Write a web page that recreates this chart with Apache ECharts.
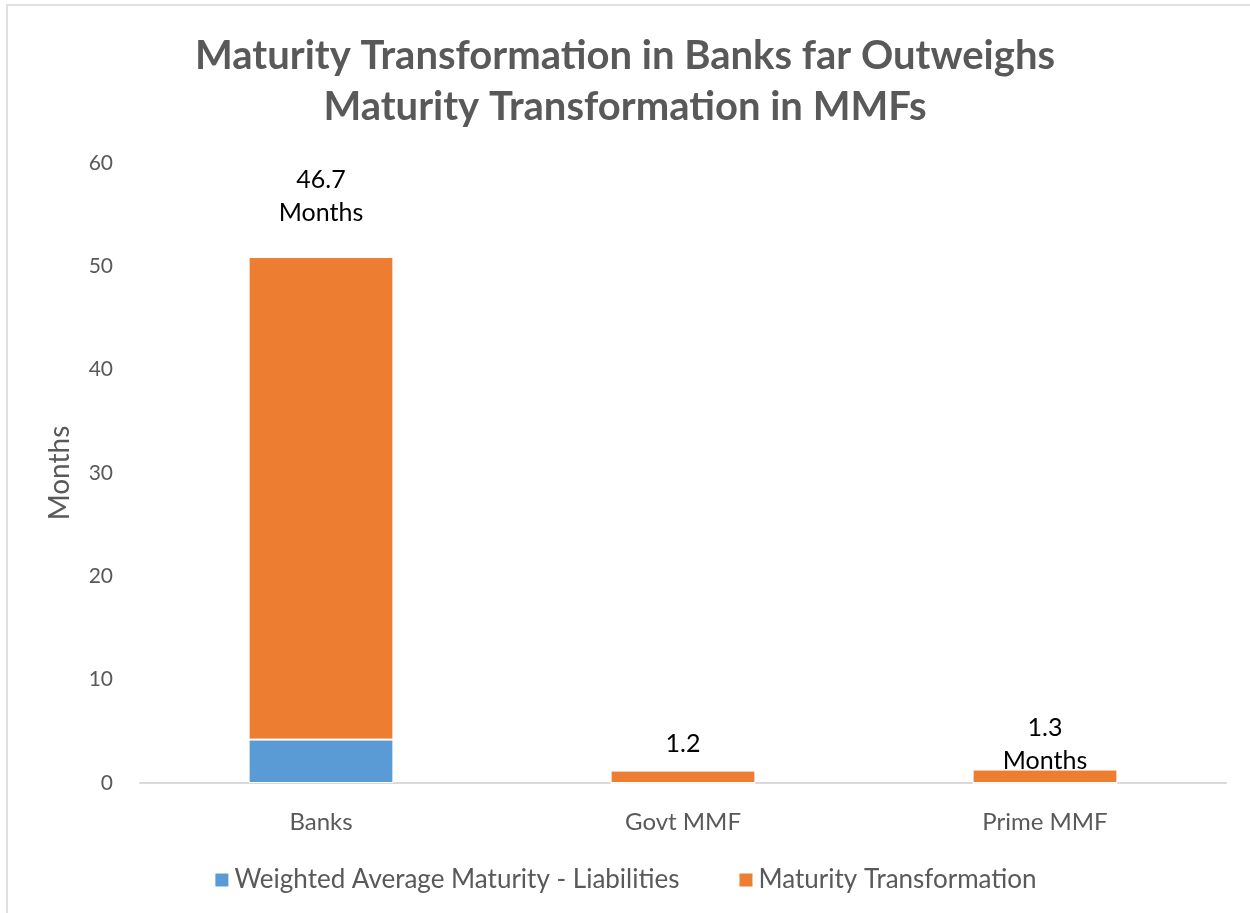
<!DOCTYPE html>
<html>
<head>
<meta charset="utf-8">
<script src="https://cdn.jsdelivr.net/npm/echarts@6/dist/echarts.min.js"></script>
<style>
  html, body { margin: 0; padding: 0; background: #fff; }
  .frame {
    position: absolute; left: 6px; top: 4px; right: 0; bottom: 0;
    border-left: 2px solid #e0e0e0; border-top: 2px solid #e0e0e0;
  }
  #chart { position: absolute; left: 0; top: 0; width: 1250px; height: 913px; }
</style>
</head>
<body>
<div class="frame"></div>
<div id="chart"></div>
<script>
const categories = ['Banks', 'Govt MMF', 'Prime MMF'];
const liabilities = [4.2, 0, 0];
const transformation = [46.7, 1.2, 1.3];
const labelTexts = ['46.7\nMonths', '1.2', '1.3\nMonths'];
const yTicks = [0, 10, 20, 30, 40, 50, 60];

const font = 'Lato, "Open Sans", sans-serif';
const labelOffsets = [[0, -23], [0, -5], [0, 13]];

const mychart = echarts.init(document.getElementById('chart'));
const option = {
  animation: false,
  title: {
    text: 'Maturity Transformation in Banks far Outweighs\nMaturity Transformation in MMFs',
    left: 'center',
    top: 26,
    textStyle: {
      fontFamily: font,
      fontSize: 40,
      fontWeight: 'bold',
      color: '#595959',
      lineHeight: 51
    }
  },
  legend: {
    bottom: 15,
    left: 'center',
    itemWidth: 15,
    itemHeight: 15,
    itemGap: 58,
    icon: 'rect',
    textStyle: { fontFamily: font, fontSize: 26, color: '#595959' },
    data: ['Weighted Average Maturity - Liabilities', 'Maturity Transformation']
  },
  grid: { left: 140, right: 24, top: 163, bottom: 130 },
  xAxis: {
    type: 'category',
    data: categories,
    axisLine: { lineStyle: { color: '#d9d9d9', width: 2 } },
    axisTick: { show: false },
    axisLabel: { fontFamily: font, fontSize: 24, color: '#595959', margin: 27 }
  },
  yAxis: {
    type: 'value',
    min: yTicks[0],
    max: yTicks[yTicks.length - 1],
    interval: 10,
    name: 'Months',
    nameLocation: 'middle',
    nameGap: 66,
    nameTextStyle: { fontFamily: font, fontSize: 28, color: '#595959' },
    axisLine: { show: false },
    axisTick: { show: false },
    splitLine: { show: false },
    axisLabel: { fontFamily: font, fontSize: 21, color: '#595959', margin: 27 }
  },
  series: [
    {
      name: 'Weighted Average Maturity - Liabilities',
      type: 'bar',
      stack: 'total',
      barWidth: '40%',
      itemStyle: { color: '#5B9BD5', borderColor: '#fff', borderWidth: 1 },
      data: liabilities
    },
    {
      name: 'Maturity Transformation',
      type: 'bar',
      stack: 'total',
      barWidth: '40%',
      itemStyle: { color: '#ED7D31', borderColor: '#fff', borderWidth: 1 },
      data: transformation.map(function (v, i) {
        return {
          value: v,
          label: {
            show: true,
            position: 'top',
            offset: labelOffsets[i],
            formatter: labelTexts[i],
            fontFamily: font,
            fontSize: 25,
            lineHeight: 33,
            color: '#000'
          }
        };
      })
    }
  ]
};
mychart.setOption(option);
</script>
</body>
</html>
